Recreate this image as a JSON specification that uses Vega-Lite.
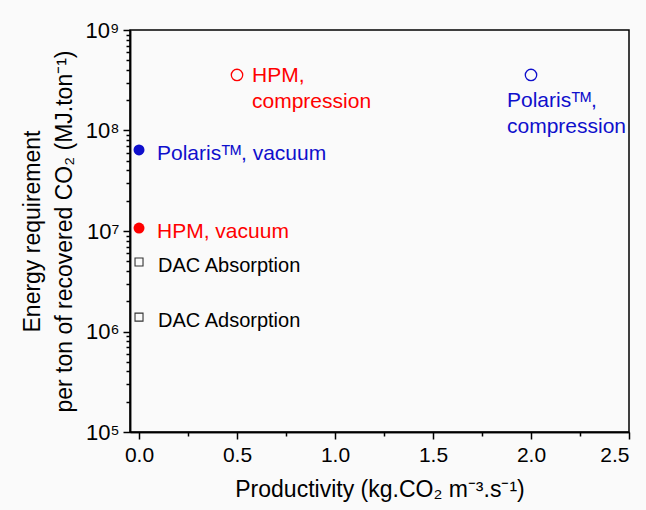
{
  "$schema": "https://vega.github.io/schema/vega-lite/v6.json",
  "width": 499,
  "height": 402,
  "autosize": "none",
  "padding": {"left": 130, "top": 30, "right": 17, "bottom": 78},
  "background": "#fafafa",
  "config": {
    "font": "Liberation Sans",
    "view": {"stroke": "#000000", "strokeWidth": 1.5},
    "axis": {"domainColor": "#000000", "domainWidth": 1.5, "tickColor": "#000000", "tickWidth": 1.5, "grid": false, "labelColor": "#000000", "titleColor": "#000000", "titleFontWeight": "normal", "labelFont": "Liberation Sans", "titleFont": "Liberation Sans"}
  },
  "data": {
    "values": [
      {"name": "HPM, compression", "label": "HPM,\ncompression", "process": "HPM", "mode": "compression", "productivity": 0.5, "energy": 357000000},
      {"name": "Polaris compression", "label": "Polarisᵀᴹ,\ncompression", "process": "Polaris", "mode": "compression", "productivity": 2.0, "energy": 357000000},
      {"name": "Polaris vacuum", "label": "Polarisᵀᴹ, vacuum", "process": "Polaris", "mode": "vacuum", "productivity": 0.0, "energy": 64000000},
      {"name": "HPM vacuum", "label": "HPM, vacuum", "process": "HPM", "mode": "vacuum", "productivity": 0.0, "energy": 10700000},
      {"name": "DAC Absorption", "label": "DAC Absorption", "process": "DAC", "mode": "DAC", "productivity": 0.0, "energy": 4920000},
      {"name": "DAC Adsorption", "label": "DAC Adsorption", "process": "DAC", "mode": "DAC", "productivity": 0.0, "energy": 1390000}
    ]
  },
  "resolve": {"axis": {"x": "independent", "y": "independent"}},
  "layer": [
    {
      "transform": [{"filter": "datum.mode == 'vacuum'"}],
      "mark": {"type": "point", "shape": "circle", "filled": true, "size": 120, "opacity": 1},
      "encoding": {
        "x": {"field": "productivity", "type": "quantitative", "scale": {"domain": [-0.046, 2.5], "nice": false, "zero": false},
          "axis": {"orient": "bottom", "values": [0.25, 0.75, 1.25, 1.75, 2.25], "labels": false, "title": null, "tickSize": 4, "domain": true}},
        "y": {"field": "energy", "type": "quantitative", "scale": {"type": "log", "domain": [100000, 1000000000], "nice": false},
          "axis": {"orient": "left", "values": [200000,300000,400000,500000,600000,700000,800000,900000,2000000,3000000,4000000,5000000,6000000,7000000,8000000,9000000,20000000,30000000,40000000,50000000,60000000,70000000,80000000,90000000,200000000,300000000,400000000,500000000,600000000,700000000,800000000,900000000], "labels": false, "title": null, "tickSize": 4}},
        "color": {"field": "process", "type": "nominal", "scale": {"domain": ["HPM", "Polaris", "DAC"], "range": ["#ff0000", "#0f0fcc", "#333333"]}, "legend": null}
      }
    },
    {
      "transform": [{"filter": "datum.mode == 'compression'"}],
      "mark": {"type": "point", "shape": "circle", "filled": false, "size": 130, "strokeWidth": 1.3, "opacity": 1},
      "encoding": {
        "x": {"field": "productivity", "type": "quantitative",
          "axis": {"orient": "bottom", "values": [0, 0.5, 1, 1.5, 2, 2.5], "format": ".1f", "labelFontSize": 21, "labelPadding": 5, "tickSize": 7, "title": "Productivity (kg.CO₂ m⁻³.s⁻¹)", "titleFontSize": 23, "titlePadding": 13}},
        "y": {"field": "energy", "type": "quantitative",
          "axis": {"orient": "left", "values": [100000, 1000000, 10000000, 100000000, 1000000000], "labelExpr": "'10' + ['⁵','⁶','⁷','⁸','⁹'][round(log(datum.value)/LN10) - 5]", "labelFontSize": 22, "labelPadding": 4, "tickSize": 7, "title": ["Energy requirement", "per ton of recovered CO₂ (MJ.ton⁻¹)"], "titleFontSize": 23, "titlePadding": 9, "titleLineHeight": 32}},
        "color": {"field": "process", "type": "nominal", "legend": null}
      }
    },
    {
      "transform": [{"filter": "datum.mode == 'DAC'"}],
      "mark": {"type": "point", "shape": "square", "filled": false, "size": 64, "strokeWidth": 1.1, "opacity": 1},
      "encoding": {
        "x": {"field": "productivity", "type": "quantitative", "axis": null},
        "y": {"field": "energy", "type": "quantitative", "axis": null},
        "color": {"field": "process", "type": "nominal", "legend": null}
      }
    },
    {
      "transform": [{"filter": "datum.mode == 'vacuum'"}],
      "mark": {"type": "text", "align": "left", "baseline": "alphabetic", "dx": 18, "dy": 10, "fontSize": 21},
      "encoding": {
        "x": {"field": "productivity", "type": "quantitative", "axis": null},
        "y": {"field": "energy", "type": "quantitative", "axis": null},
        "text": {"field": "label"},
        "color": {"field": "process", "type": "nominal", "legend": null}
      }
    },
    {
      "transform": [{"filter": "datum.mode == 'DAC'"}],
      "mark": {"type": "text", "align": "left", "baseline": "alphabetic", "dx": 19, "dy": 10, "fontSize": 20},
      "encoding": {
        "x": {"field": "productivity", "type": "quantitative", "axis": null},
        "y": {"field": "energy", "type": "quantitative", "axis": null},
        "text": {"field": "label"},
        "color": {"value": "#000000"}
      }
    },
    {
      "transform": [{"filter": "datum.name == 'HPM, compression'"}],
      "mark": {"type": "text", "align": "left", "baseline": "alphabetic", "dx": 15, "dy": 7, "fontSize": 21, "lineBreak": "\n", "lineHeight": 26},
      "encoding": {
        "x": {"field": "productivity", "type": "quantitative", "axis": null},
        "y": {"field": "energy", "type": "quantitative", "axis": null},
        "text": {"field": "label"},
        "color": {"field": "process", "type": "nominal", "legend": null}
      }
    },
    {
      "transform": [{"filter": "datum.name == 'Polaris compression'"}],
      "mark": {"type": "text", "align": "left", "baseline": "alphabetic", "dx": -24, "dy": 32, "fontSize": 21, "lineBreak": "\n", "lineHeight": 26},
      "encoding": {
        "x": {"field": "productivity", "type": "quantitative", "axis": null},
        "y": {"field": "energy", "type": "quantitative", "axis": null},
        "text": {"field": "label"},
        "color": {"field": "process", "type": "nominal", "legend": null}
      }
    }
  ]
}
